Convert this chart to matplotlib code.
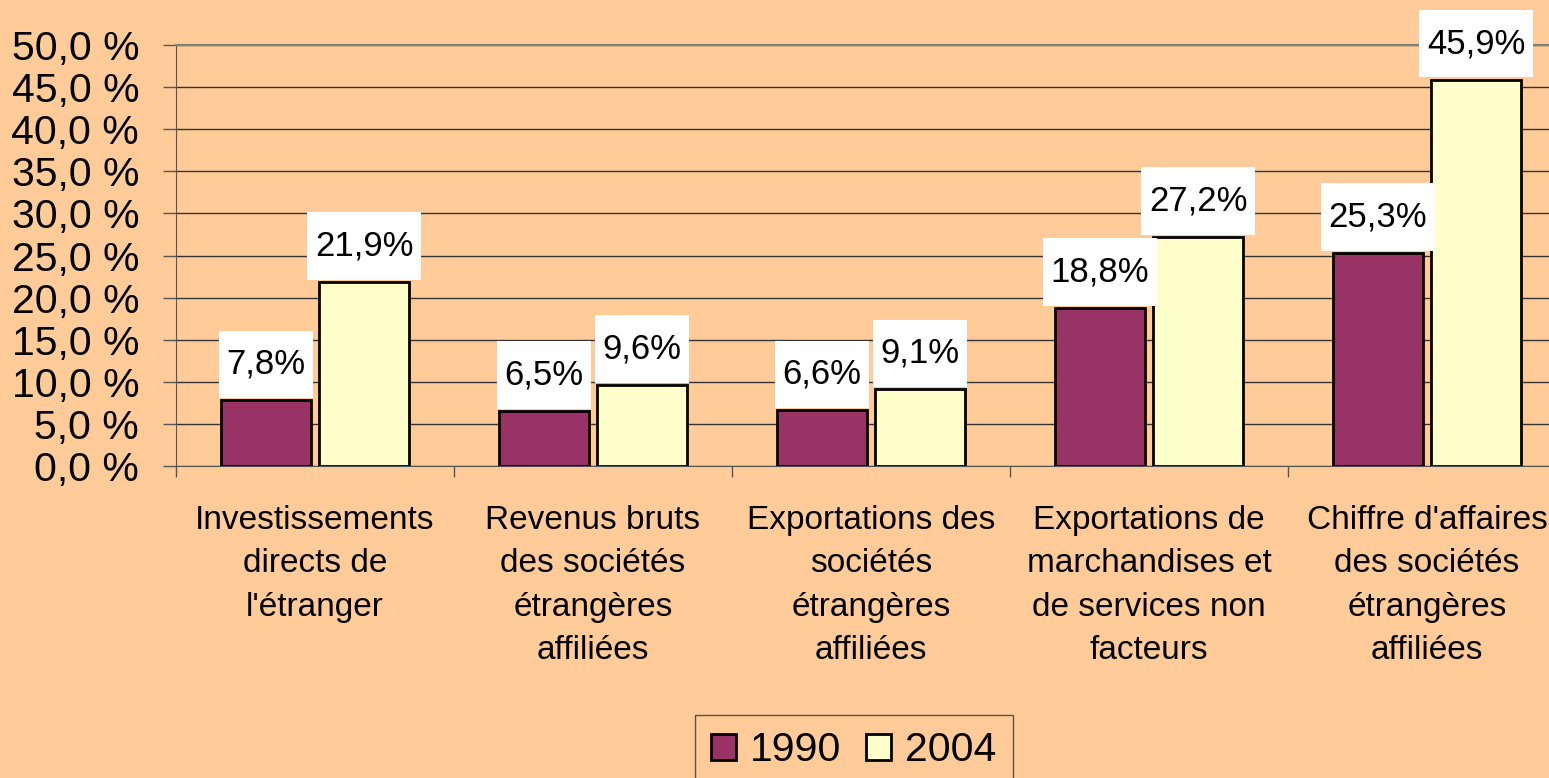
import numpy as np
import matplotlib
matplotlib.use('Agg')
import matplotlib.pyplot as plt
from matplotlib.path import Path
from matplotlib.ticker import FuncFormatter, FixedLocator

# chart data
categories = [
    "Investissements\ndirects de\nl'étranger",
    "Revenus bruts\ndes sociétés\nétrangères\naffiliées",
    "Exportations des\nsociétés\nétrangères\naffiliées",
    "Exportations de\nmarchandises et\nde services non\nfacteurs",
    "Chiffre d'affaires\ndes sociétés\nétrangères\naffiliées",
]
values_1990 = [7.8, 6.5, 6.6, 18.8, 25.3]
values_2004 = [21.9, 9.6, 9.1, 27.2, 45.9]
series_names = ["1990", "2004"]

bg = '#FFCC99'
col_1990 = '#993366'
col_2004 = '#FFFFCC'

plt.rcParams['font.family'] = ['Liberation Sans', 'DejaVu Sans']


#   white label box, taller than wide padding (like the original)
def label_box(x0, y0, width, height, mutation_size):
    px = 0.22 * mutation_size
    py = 0.5 * mutation_size
    x0, y0 = x0 - px, y0 - py
    x1, y1 = x0 + width + 2 * px, y0 + height + 2 * py
    return Path([(x0, y0), (x1, y0), (x1, y1), (x0, y1), (x0, y0)], closed=True)


fig = plt.figure(figsize=(15.49, 7.78), dpi=100, facecolor=bg)
ax = fig.add_axes([176 / 1549, 1 - 466 / 778, 1 - 176 / 1549, (466 - 45) / 778])
ax.set_facecolor(bg)

x = np.arange(len(categories))
w = 0.324
off = 0.177
b1 = ax.bar(x - off, values_1990, w, color=col_1990, edgecolor='black', linewidth=2,
            label=series_names[0], zorder=3)
b2 = ax.bar(x + off, values_2004, w, color=col_2004, edgecolor='black', linewidth=2,
            label=series_names[1], zorder=3)

# value labels in white boxes
for bars, vals in [(b1, values_1990), (b2, values_2004)]:
    for rect, v in zip(bars, vals):
        ax.annotate(f"{v:.1f}%".replace('.', ','),
                    xy=(rect.get_x() + rect.get_width() / 2, rect.get_height()),
                    xytext=(0, 14), textcoords='offset points',
                    ha='center', va='bottom', fontsize=25, zorder=5,
                    bbox=dict(boxstyle=label_box, facecolor='white', edgecolor='none'),
                    annotation_clip=False)

ax.set_xlim(-0.5, -0.5 + (1549 - 176) / 278)
ax.set_ylim(0, 50)
ax.set_yticks(np.arange(0, 51, 5))
ax.yaxis.set_major_formatter(FuncFormatter(lambda v, p: f"{v:.1f} %".replace('.', ',')))
ax.tick_params(axis='y', labelsize=29.5, length=9.5, width=1, color='#555555', pad=17, direction='out')

ax.set_xticks(x)
ax.set_xticklabels(categories, fontsize=24, linespacing=1.52)
ax.xaxis.set_minor_locator(FixedLocator(np.arange(-0.5, 5, 1.0)))
ax.tick_params(axis='x', which='major', length=0, pad=28)
ax.tick_params(axis='x', which='minor', length=8, width=1, color='#555555', direction='out')

ax.grid(axis='y', color='#333333', linewidth=1, zorder=0)
ax.set_axisbelow(True)
ax.spines['right'].set_visible(False)
ax.spines['top'].set_color('#808080')
ax.spines['top'].set_linewidth(1.5)
ax.spines['left'].set_color('#555555')
ax.spines['bottom'].set_color('#555555')

leg = fig.legend(handles=[b1, b2], labels=series_names, loc='upper center',
                 bbox_to_anchor=(854 / 1549, 1 - 715 / 778), ncol=2, fontsize=29.5,
                 frameon=True, fancybox=False, facecolor=bg, edgecolor='#333333',
                 handlelength=0.6, handleheight=0.6, handletextpad=0.35, columnspacing=0.6,
                 borderpad=0.4, borderaxespad=0)
leg.get_frame().set_linewidth(1)

fig.savefig('out.png', dpi=100, facecolor=bg)
